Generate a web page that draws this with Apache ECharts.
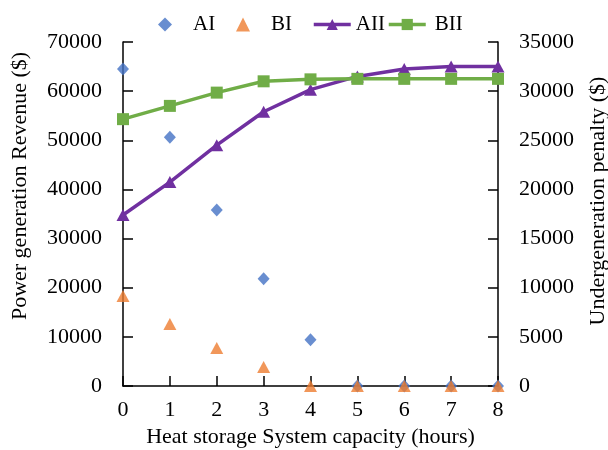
<!DOCTYPE html>
<html>
<head>
<meta charset="utf-8">
<script src="https://cdn.jsdelivr.net/npm/echarts@6/dist/echarts.min.js"></script>
<style>
  html, body { margin: 0; padding: 0; background: #fff; }
  #main { width: 608px; height: 450px; }
</style>
</head>
<body>
<div id="main"></div>
<script>
// heat storage capacity (hours)
var capacity = ['0', '1', '2', '3', '4', '5', '6', '7', '8'];
// undergeneration penalty ($), right axis
var penaltyAI = [32250, 25300, 17900, 10900, 4700, 0, 0, 0, 0];
var penaltyBI = [9150, 6300, 3870, 1930, 0, 0, 0, 0, 0];
// power generation revenue ($), left axis
var revenueAII = [34800, 41500, 49000, 55800, 60300, 63000, 64500, 65000, 65000];
var revenueBII = [54300, 57000, 59700, 62000, 62400, 62500, 62500, 62500, 62500];

var font = 'Liberation Serif';
var axisCol = '#000';

var myChart = echarts.init(document.getElementById('main'));

function legendAt(name, x, w, pad) {
    return {
        data: [name],
        left: x,
        top: 9,
        itemWidth: w,
        itemHeight: 14,
        itemGap: 0,
        lineStyle: { width: 3.5 },
        textStyle: { fontFamily: font, fontSize: 21, color: '#000', padding: [0, 0, 0, pad] }
    };
}

function plain(v) { return String(v); }

var option = {
    animation: false,
    legend: [
        legendAt('AI', 153, 14, 16),
        legendAt('BI', 231, 14, 16),
        legendAt('AII', 307, 37, 0),
        legendAt('BII', 382, 37, 4)
    ],
    grid: { left: 123, right: 110, top: 42, bottom: 64, outerBoundsMode: 'none', containLabel: false },
    xAxis: {
        type: 'category',
        data: capacity,
        boundaryGap: false,
        name: 'Heat storage System capacity (hours)',
        nameLocation: 'middle',
        nameGap: 40,
        nameTextStyle: { fontFamily: font, fontSize: 22, color: '#000' },
        axisLine: { lineStyle: { color: axisCol, width: 1.5 } },
        axisTick: { inside: true, length: 10, alignWithLabel: true, lineStyle: { color: axisCol, width: 1.5 } },
        axisLabel: { fontFamily: font, fontSize: 22, color: '#000', margin: 13 },
        splitLine: { show: false }
    },
    yAxis: [
        {
            type: 'value',
            position: 'left',
            min: 0, max: 70000, interval: 10000,
            name: 'Power generation Revenue ($)',
            nameLocation: 'middle',
            nameRotate: 90,
            nameGap: 92,
            nameTextStyle: { fontFamily: font, fontSize: 22, color: '#000', padding: [0, 0, 0, 56] },
            axisLine: { show: true, lineStyle: { color: axisCol, width: 1.5 } },
            axisTick: { show: true, inside: true, length: 10, lineStyle: { color: axisCol, width: 1.5 } },
            axisLabel: { fontFamily: font, fontSize: 22, color: '#000', margin: 21, formatter: plain },
            splitLine: { show: false }
        },
        {
            type: 'value',
            position: 'right',
            min: 0, max: 35000, interval: 5000,
            name: 'Undergeneration penalty ($)',
            nameLocation: 'middle',
            nameRotate: 90,
            nameGap: 89,
            nameTextStyle: { fontFamily: font, fontSize: 22, color: '#000', padding: [0, 0, 0, 26] },
            axisLine: { show: true, lineStyle: { color: axisCol, width: 1.5 } },
            axisTick: { show: true, inside: true, length: 10, lineStyle: { color: axisCol, width: 1.5 } },
            axisLabel: { fontFamily: font, fontSize: 22, color: '#000', margin: 21, formatter: plain },
            splitLine: { show: false }
        }
    ],
    series: [
        {
            name: 'AI',
            type: 'scatter',
            yAxisIndex: 1,
            symbol: 'diamond',
            symbolSize: [12, 13],
            itemStyle: { color: '#4472C4' },
            data: penaltyAI
        },
        {
            name: 'BI',
            type: 'scatter',
            yAxisIndex: 1,
            symbol: 'triangle',
            symbolSize: [13, 12],
            itemStyle: { color: '#ED7D31' },
            data: penaltyBI
        },
        {
            name: 'AII',
            type: 'line',
            yAxisIndex: 0,
            symbol: 'triangle',
            symbolSize: [13, 12],
            showAllSymbol: true,
            lineStyle: { color: '#7030A0', width: 3.5 },
            itemStyle: { color: '#7030A0' },
            data: revenueAII
        },
        {
            name: 'BII',
            type: 'line',
            yAxisIndex: 0,
            symbol: 'rect',
            symbolSize: 12,
            showAllSymbol: true,
            lineStyle: { color: '#70AD47', width: 3.5 },
            itemStyle: { color: '#70AD47' },
            data: revenueBII
        }
    ]
};

myChart.setOption(option);
</script>
</body>
</html>
